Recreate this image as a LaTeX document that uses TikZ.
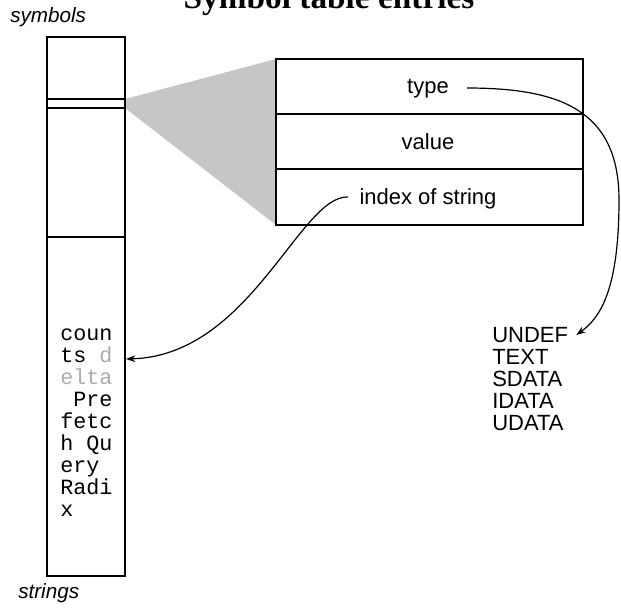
\documentclass[tikz,border=0pt]{standalone}
\usepackage{fontspec}
\setmainfont{Liberation Serif}
\setsansfont{Liberation Sans}
\setmonofont{Liberation Mono}
\usetikzlibrary{arrows.meta}

\tikzset{
  field/.style={font=\sffamily\fontsize{16.5}{20}\selectfont, anchor=base},
  tag/.style={font=\sffamily\itshape\fontsize{15.5}{18}\selectfont, anchor=base west, inner sep=0pt},
  enum/.style={font=\sffamily\fontsize{16.5}{20}\selectfont, anchor=base west, inner sep=0pt},
  chars/.style={font=\ttfamily\fontsize{16.3}{22}\selectfont, anchor=base west, inner sep=0pt},
  faint/.style={gray!65},
  box/.style={line width=1.5pt},
  link/.style={line width=0.9pt, -{Stealth[length=7pt,width=5pt]}},
}

\begin{document}
\begin{tikzpicture}[x=0.75pt,y=-0.75pt]
\useasboundingbox (0,0) rectangle (621,607);
\node[font=\bfseries\fontsize{25}{30}\selectfont, anchor=base] (title) at (329,8) {Symbol table entries};

% wedge from the symbol slot out to the entry
\fill[gray!45] (125,99) -- (276,59) -- (276,225) -- (125,108) -- cycle;

% the symbols / strings column
\draw[box] (47,37) rectangle (125,576);
\draw[box] (47,99) -- (125,99);
\draw[box] (47,108) -- (125,108);
\draw[box] (47,237) -- (125,237);
\coordinate (colR) at (126,0);
\node[tag] (symlbl) at (10,22) {symbols};
\node[tag] (strlbl) at (18,598) {strings};

% string characters, four per row
\node[chars] (s1) at (60,340) {coun};
\node[chars] (tsd) at (60,362) {ts {\color{gray!65}d}};
\node[chars, faint] (s3) at (60,384) {elta};
\node[chars] (s4) at (73,406) {Pre};
\node[chars] (s5) at (60,428) {fetc};
\node[chars] (s6) at (60,450) {h Qu};
\node[chars] (s7) at (60,472) {ery};
\node[chars] (s8) at (60,494) {Radi};
\node[chars] (s9) at (60,516) {x};

% one entry
\draw[box] (276,59) rectangle (583,225);
\draw[box] (276,114) -- (583,114);
\draw[box] (276,169) -- (583,169);
\node[field] (type) at (428,93) {type};
\node[field] (value) at (428,149) {value};
\node[field] (idx) at (428,204) {index of string};
\coordinate (typeout) at (467,88);
\coordinate (idxout) at (348,197);

% possible types
\node[enum] (undef) at (492,342) {UNDEF};
\node[enum] (text) at (492,364) {TEXT};
\node[enum] (sdata) at (492,386) {SDATA};
\node[enum] (idata) at (492,408) {IDATA};
\node[enum] (udata) at (492,430) {UDATA};

\draw[link] (typeout) .. controls (560,88) and (619,110) .. (619,200)
  .. controls (619,290) and (600,318) .. ([shift={(8,-4)}]undef.mid east);
\draw[link] (idxout) .. controls (300,195) and (250,356) .. (colR |- tsd.mid);
\end{tikzpicture}
\end{document}
